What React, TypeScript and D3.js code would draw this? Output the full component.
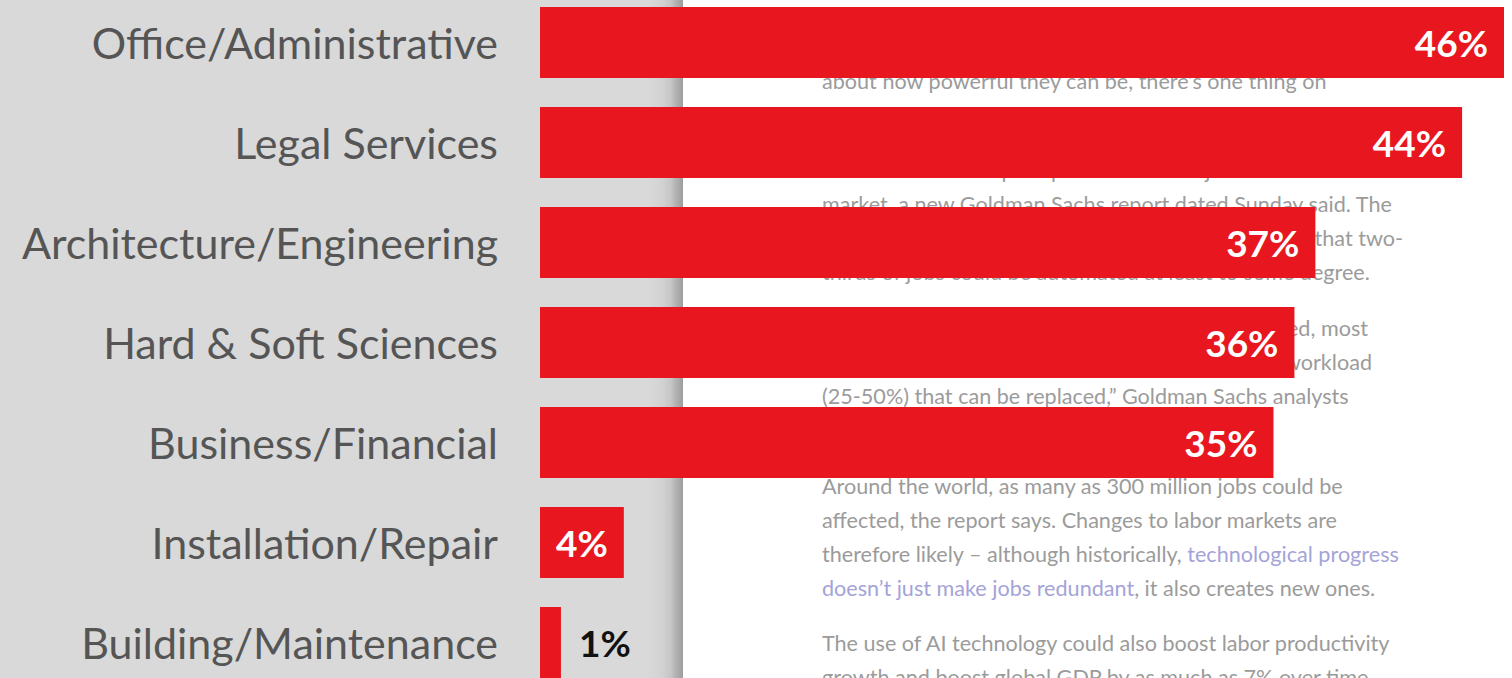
import React, { useEffect } from 'react';
import * as d3 from 'd3';

const categories = [
  'Office/Administrative',
  'Legal Services',
  'Architecture/Engineering',
  'Hard & Soft Sciences',
  'Business/Financial',
  'Installation/Repair',
  'Building/Maintenance',
];
const shares = [46, 44, 37, 36, 35, 4, 1];

// faded article screenshot behind the chart (only lines that peek out)
const articleLines = [
  'about how powerful they can be, there’s one thing on',
  'Generative AI could put up to 300 million jobs at risk in the labor',
  'market, a new Goldman Sachs report dated Sunday said. The',
  'report’s analysis of US and European data suggests that two-',
  'thirds of jobs could be automated at least to some degree.',
  '“Of US workers in occupations that could be affected, most',
  'have less than half of their current workload',
  '(25-50%) that can be replaced,” Goldman Sachs analysts',
  'Around the world, as many as 300 million jobs could be',
  'affected, the report says. Changes to labor markets are',
  'The use of AI technology could also boost labor productivity',
  'growth and boost global GDP by as much as 7% over time',
];
const articleBaselines = [89, 178, 212, 246, 280, 336, 370, 404, 494, 528, 651, 685];
// lines partly covered by bars are anchored on their visible right end
const rightEnds = [0, 1420, 0, 1403, 0, 1368, 1372, 0, 0, 0, 0, 0];

const W = 1512;
const H = 678;

export default function App() {
  useEffect(() => {
    document.body.style.margin = '0';
  }, []);

  const x = d3.scaleLinear().domain([0, 46]).range([540, 1504]);
  const y = d3.scaleBand<string>().domain(categories).range([7, 678]).paddingInner(0.29).paddingOuter(0);
  const bw = y.bandwidth();

  const textGray = '#9b9b9b';
  const linkColor = '#a4a3d8';
  const artFont = 'Lato, sans-serif';
  const artSize = 21.6;

  return (
    <svg width={W} height={H} style={{ display: 'block' }}>
      <defs>
        <linearGradient id="panel-shadow" x1="0" x2="1" y1="0" y2="0">
          <stop offset="0%" stopColor="#d9d9d9" />
          <stop offset="40%" stopColor="#d2d2d2" />
          <stop offset="65%" stopColor="#c6c6c6" />
          <stop offset="80%" stopColor="#b2b2b2" />
          <stop offset="92%" stopColor="#a6a6a6" />
          <stop offset="100%" stopColor="#9c9c9c" />
        </linearGradient>
      </defs>
      <rect x={0} y={0} width={W} height={H} fill="#ffffff" />
      <rect x={0} y={0} width={648} height={H} fill="#d9d9d9" />
      <rect x={648} y={0} width={35} height={H} fill="url(#panel-shadow)" />

      <g fontFamily={artFont} fontSize={artSize} fill={textGray}>
        {articleLines.map((t, i) => (
          <text
            key={i}
            x={rightEnds[i] || 822}
            y={articleBaselines[i]}
            textAnchor={rightEnds[i] ? 'end' : 'start'}
          >
            {t}
          </text>
        ))}
        <text x={822} y={562}>
          therefore likely – although historically, <tspan fill={linkColor}>technological progress</tspan>
        </text>
        <text x={822} y={596}>
          <tspan fill={linkColor}>doesn’t just make jobs redundant</tspan>, it also creates new ones.
        </text>
      </g>

      {categories.map((c, i) => {
        const y0 = y(c) || 0;
        const x1 = x(shares[i]);
        const width = x1 - x(0);
        const label = `${shares[i]}%`;
        const inside = width > 70;
        return (
          <g key={c}>
            <text
              x={498}
              y={y0 + bw / 2}
              textAnchor="end"
              dominantBaseline="central"
              fontFamily="Lato, sans-serif"
              fontSize={43}
              fill="#555555"
            >
              {c}
            </text>
            <rect x={x(0)} y={y0} width={width} height={bw} fill="#e8171f" />
            <text
              x={inside ? x1 - 16 : x1 + 18}
              y={y0 + bw / 2}
              textAnchor={inside ? 'end' : 'start'}
              dominantBaseline="central"
              fontFamily="Lato, sans-serif"
              fontWeight={700}
              fontSize={37}
              fill={inside ? '#ffffff' : '#111111'}
            >
              {label}
            </text>
          </g>
        );
      })}
    </svg>
  );
}
